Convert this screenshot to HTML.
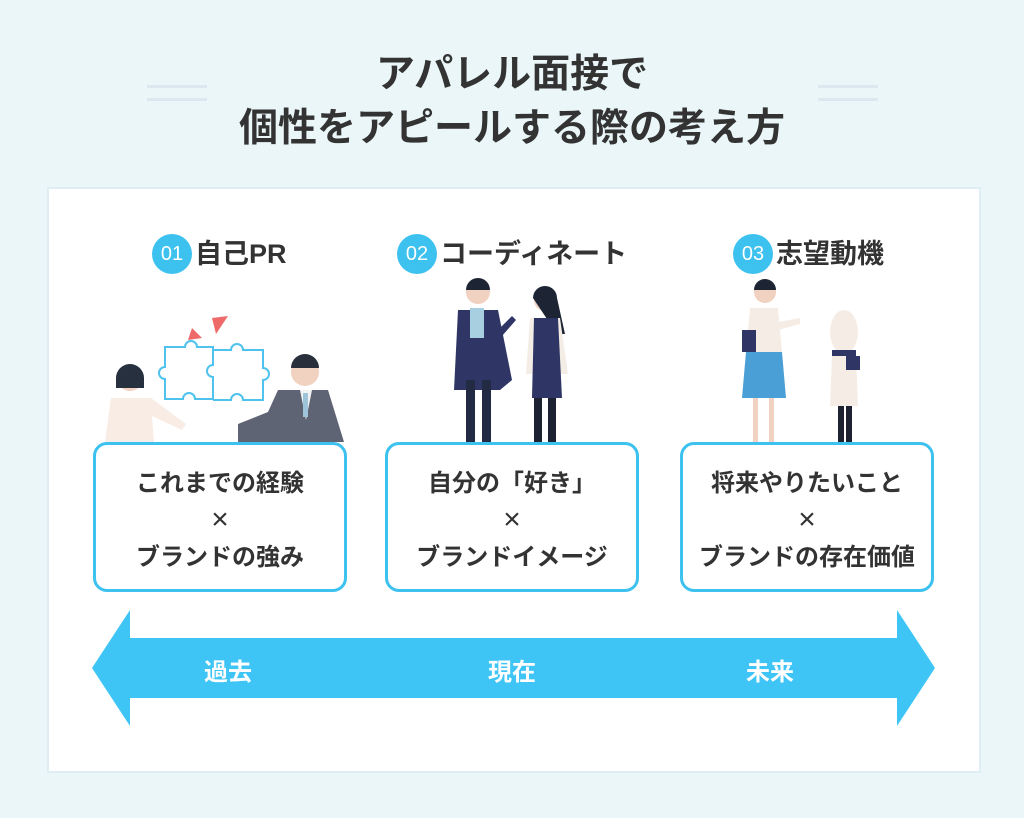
<!DOCTYPE html>
<html><head><meta charset="utf-8"><style>
body{margin:0;width:1024px;height:818px;background:#eaf6f8;font-family:"Liberation Sans","Noto Sans CJK JP",sans-serif;position:relative;overflow:hidden;color:#333}
.t{position:absolute;left:0;width:1024px;text-align:center;font-weight:bold;font-size:39px;line-height:1}
.dl{position:absolute;height:3px;width:60px;background:#dbe8ef}
.panel{position:absolute;left:47px;top:187px;width:930px;height:582px;background:#fff;border:2px solid #dfeef2}
.box{position:absolute;top:442px;width:254px;border:3px solid #3dc1ef;border-radius:14px;background:#fff;text-align:center;font-weight:bold;font-size:24px;line-height:36px;padding-top:21px;box-sizing:border-box;height:150px}
.x{font-size:30px;font-weight:normal}
.h{position:absolute;top:234px;font-weight:bold;font-size:27px;line-height:40px;white-space:nowrap}
.h span{display:inline-block;width:40px;height:40px;border-radius:50%;background:#3dc1ef;color:#fff;font-weight:normal;font-size:20px;text-align:center;line-height:40px;margin-right:3px;vertical-align:top}
.lab{position:absolute;top:652px;color:#fff;font-weight:bold;font-size:24px}
</style></head><body>
<div class="t" style="top:55px">アパレル面接で</div>
<div class="t" style="top:109px">個性をアピールする際の考え方</div>
<div class="dl" style="left:147px;top:85px"></div><div class="dl" style="left:147px;top:98px"></div>
<div class="dl" style="left:818px;top:85px"></div><div class="dl" style="left:818px;top:98px"></div>
<div class="panel"></div>
<div class="h" style="left:152px"><span>01</span>自己PR</div>
<div class="h" style="left:397px"><span>02</span>コーディネート</div>
<div class="h" style="left:733px"><span>03</span>志望動機</div>
<svg style="position:absolute;left:0;top:0" width="1024" height="818">
<g fill="none" stroke="#4fc3ee" stroke-width="2">
<path d="M165 347h20a6 6 0 1 1 12 0h16v18a6 6 0 1 0 0 12v22h-18a6 6 0 1 0-12 0h-18v-20a6 6 0 1 1 0-12z"/>
<path d="M213 350h18a6 6 0 1 1 12 0h20v18a6 6 0 1 1 0 12v20h-20a6 6 0 1 0-12 0h-18"/>
</g>
<polygon points="192,328 202,338 188,340" fill="#ee6a6a"/><polygon points="212,318 228,316 216,334" fill="#ee6a6a"/>
<circle cx="130" cy="378" r="13" fill="#f1d1bf"/><path d="M116 378a14 14 0 0 1 28 0v10h-28z" fill="#27303e"/>
<path d="M105 442l6-44h40l35 26-4 6-30-14 2 26z" fill="#f8ece4"/>
<circle cx="305" cy="372" r="14" fill="#f1d1bf"/><path d="M291 368a14 14 0 0 1 28 0h-28z" fill="#2a303b"/>
<path d="M238 424l30-12 10-22h50l16 52h-106z" fill="#5f6475"/><path d="M300 390h12l-6 30z" fill="#f3f3f3"/><rect x="303" y="393" width="5" height="24" fill="#9dc4d8"/>
<circle cx="478" cy="292" r="12" fill="#f1d1bf"/><path d="M466 290a12 12 0 0 1 24 0z" fill="#1d2433"/>
<path d="M458 310h40l14 70-12 10h-46z" fill="#2f3565"/><rect x="470" y="308" width="14" height="30" fill="#a7cfe0"/>
<rect x="466" y="380" width="9" height="72" fill="#222a44"/><rect x="482" y="380" width="9" height="72" fill="#222a44"/>
<path d="M498 330l14-14 4 4-14 16z" fill="#2f3565"/>
<circle cx="545" cy="300" r="11" fill="#f1d1bf"/><path d="M533 298a12 12 0 0 1 24 0l8 36h-8z" fill="#1d2433"/>
<path d="M530 318h30l8 56h-42z" fill="#f3ede6"/><path d="M534 318h24l4 80h-30z" fill="#2f3565"/>
<rect x="534" y="398" width="8" height="58" fill="#1c2230"/><rect x="548" y="398" width="8" height="58" fill="#1c2230"/>
<circle cx="765" cy="292" r="11" fill="#f1d1bf"/><path d="M754 290a11 11 0 0 1 22 0z" fill="#1d2433"/>
<path d="M750 308h28l4 44h-36z" fill="#f5ede5"/><path d="M746 352h36l4 46h-44z" fill="#4a9fd6"/>
<rect x="742" y="330" width="14" height="22" fill="#2f3565"/>
<rect x="753" y="398" width="5" height="52" fill="#f1d1bf"/><rect x="769" y="398" width="5" height="52" fill="#f1d1bf"/>
<path d="M778 322l22-4v6l-22 6z" fill="#f5ede5"/>
<ellipse cx="844" cy="332" rx="14" ry="22" fill="#f5ede5"/><rect x="832" y="350" width="24" height="6" fill="#2f3565"/>
<path d="M832 356h24l2 50h-28z" fill="#f5ede5"/><rect x="838" y="406" width="6" height="46" fill="#1c2230"/><rect x="846" y="406" width="6" height="46" fill="#1c2230"/>
<rect x="846" y="356" width="14" height="14" fill="#2f3565"/>
<polygon points="92,668 130,610 130,638 897,638 897,610 935,668 897,726 897,698 130,698 130,726" fill="#3ec5f5"/>
</svg>
<div class="box" style="left:93px">これまでの経験<br><span class="x">×</span><br>ブランドの強み</div>
<div class="box" style="left:385px">自分の「好き」<br><span class="x">×</span><br>ブランドイメージ</div>
<div class="box" style="left:680px">将来やりたいこと<br><span class="x">×</span><br>ブランドの存在価値</div>
<div class="lab" style="left:204px">過去</div>
<div class="lab" style="left:488px">現在</div>
<div class="lab" style="left:746px">未来</div>
</body></html>
